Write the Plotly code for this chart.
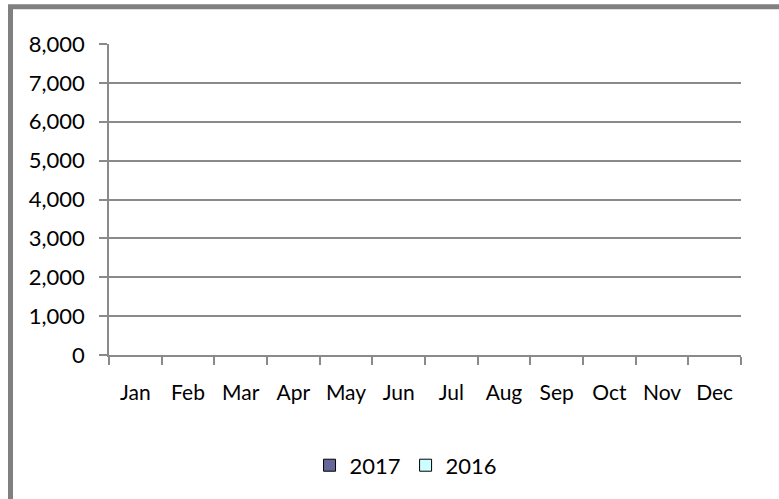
import plotly.graph_objects as go

# Monthly totals by year (no values recorded yet)
months = ["Jan", "Feb", "Mar", "Apr", "May", "Jun",
          "Jul", "Aug", "Sep", "Oct", "Nov", "Dec"]
values_2017 = [None] * 12
values_2016 = [None] * 12
y_ticks = [0, 1000, 2000, 3000, 4000, 5000, 6000, 7000, 8000]

grid_color = "#8a8a8a"
font_family = "Lato, 'Open Sans', sans-serif"

fig = go.Figure()
fig.add_trace(go.Bar(
    name="2017", x=months, y=values_2017,
    marker=dict(color="#666699", line=dict(color="#000000", width=1)),
))
fig.add_trace(go.Bar(
    name="2016", x=months, y=values_2016,
    marker=dict(color="#ccffff", line=dict(color="#000000", width=1)),
))

fig.update_layout(
    width=779, height=499,
    margin=dict(l=109, r=38, t=44, b=137),
    paper_bgcolor="white", plot_bgcolor="white",
    font=dict(family=font_family, size=22, color="#000000"),
    barmode="group",
    showlegend=True,
    legend=dict(
        orientation="h", x=0.47, y=-0.355,
        xanchor="center", yanchor="middle",
        font=dict(size=22), itemwidth=30,
        traceorder="normal",
    ),
    xaxis=dict(
        type="category", categoryorder="array", categoryarray=months,
        range=[-0.5, 11.5], tickson="boundaries", tickangle=0,
        tickfont=dict(size=21), automargin=False,
        ticks="outside", ticklen=8, tickcolor=grid_color, tickwidth=1.5,
        showline=True, linecolor=grid_color, linewidth=1.5,
        showgrid=False, zeroline=False, ticklabelstandoff=18,
    ),
    yaxis=dict(
        range=[0, 8000], tickvals=y_ticks, tickformat=",d", automargin=False,
        ticks="outside", ticklen=8, tickcolor=grid_color, tickwidth=1.5,
        showline=True, linecolor=grid_color, linewidth=1.5,
        showgrid=True, gridcolor=grid_color, gridwidth=1.5,
        zeroline=False, ticklabelstandoff=10,
    ),
    shapes=[dict(
        type="rect", xref="paper", yref="paper",
        x0=(10.5 - 109) / 632, x1=(790 - 109) / 632,
        y0=(357 - 510) / 313, y1=(357 - 6.5) / 313,
        line=dict(color="#808080", width=5), fillcolor="rgba(0,0,0,0)",
        layer="below",
    )],
)

fig.write_html("out.html")
